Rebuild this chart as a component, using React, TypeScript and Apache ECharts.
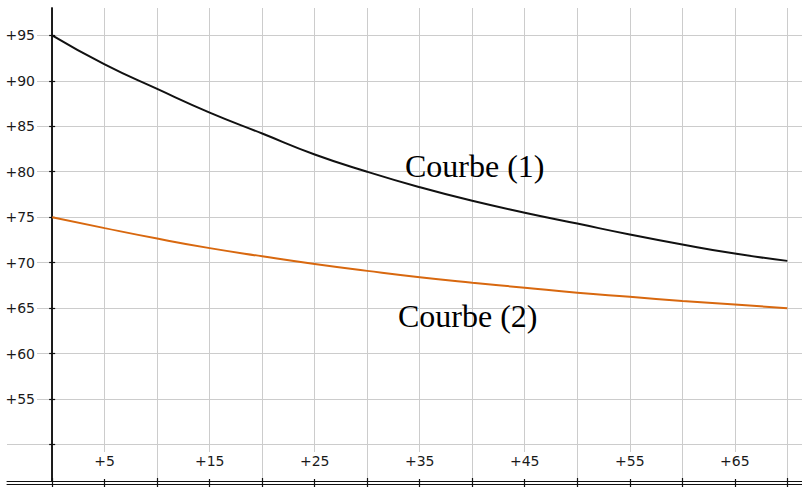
import React, { useEffect, useRef } from 'react';
import * as echarts from 'echarts';

const xValues = [0, 5, 10, 15, 20, 25, 30, 35, 40, 45, 50, 55, 60, 65, 70];
const courbe1 = [95, 91.8, 89.1, 86.5, 84.2, 81.9, 80.0, 78.3, 76.8, 75.5, 74.3, 73.1, 72.0, 71.0, 70.2];
const courbe2 = [75, 73.8, 72.65, 71.6, 70.7, 69.85, 69.1, 68.4, 67.8, 67.25, 66.7, 66.25, 65.8, 65.4, 65.0];
const xTickValues = [0, 5, 10, 15, 20, 25, 30, 35, 40, 45, 50, 55, 60, 65, 70];
const xLabelValues = [5, 15, 25, 35, 45, 55, 65];
const yTickValues = [50, 55, 60, 65, 70, 75, 80, 85, 90, 95];
const yLabelValues = [55, 60, 65, 70, 75, 80, 85, 90, 95];
const curveNames = ['Courbe (1)', 'Courbe (2)'];

const X_MIN = -4.3;
const X_MAX = 71.4;
const Y_MIN = 46;
const Y_MAX = 98;

const AXIS_COLOR = '#111111';
const GRID_COLOR = '#cccccc';
const LABEL_FONT = 'DejaVu Sans';

export default function App() {
  const ref = useRef<HTMLDivElement>(null);

  useEffect(() => {
    if (!ref.current) return;
    const chart = echarts.init(ref.current, undefined, { renderer: 'svg' });

    const plusFmt = (v: number) => '+' + v;

    const baseX = {
      type: 'value',
      min: X_MIN,
      max: X_MAX,
      splitNumber: 15,
      position: 'bottom',
    };
    const baseY = {
      type: 'value',
      min: Y_MIN,
      max: Y_MAX,
      splitNumber: 10,
      position: 'left',
    };

    chart.setOption({
      animation: false,
      backgroundColor: '#ffffff',
      grid: { left: 7, right: 0, top: 8, bottom: 7, containLabel: false, outerBoundsMode: 'none' },
      xAxis: [
        {
          ...baseX,
          axisLine: { show: true, onZero: false, lineStyle: { color: AXIS_COLOR, width: 1 } },
          axisTick: { show: false },
          axisLabel: {
            show: true,
            inside: true,
            customValues: xLabelValues,
            formatter: plusFmt,
            margin: 2,
            color: '#1a1a1a',
            fontFamily: LABEL_FONT,
            fontSize: 14,
            backgroundColor: '#ffffff',
            padding: [2, 3, 11, 3],
          },
          splitLine: {
            show: true,
            showMinLine: false,
            showMaxLine: false,
            lineStyle: { color: GRID_COLOR, width: 1 },
          },
        },
        {
          ...baseX,
          offset: 3,
          axisLine: { show: true, onZero: false, lineStyle: { color: AXIS_COLOR, width: 1 } },
          axisTick: { show: false },
          axisLabel: { show: false },
          splitLine: { show: false },
        },
        {
          ...baseX,
          offset: 6,
          axisLine: { show: true, onZero: false, lineStyle: { color: AXIS_COLOR, opacity: 0 } },
          axisTick: {
            show: true,
            inside: true,
            length: 9,
            customValues: xTickValues,
            lineStyle: { color: AXIS_COLOR, width: 1.2 },
          },
          axisLabel: { show: false },
          splitLine: { show: false },
        },
      ],
      yAxis: [
        {
          ...baseY,
          axisLine: { show: false, onZero: false },
          axisTick: { show: false },
          axisLabel: {
            show: true,
            customValues: yLabelValues,
            formatter: plusFmt,
            margin: -30,
            color: '#1a1a1a',
            fontFamily: LABEL_FONT,
            fontSize: 14,
            backgroundColor: '#ffffff',
            padding: [1, 2],
          },
          splitLine: {
            show: true,
            showMinLine: false,
            showMaxLine: false,
            lineStyle: { color: GRID_COLOR, width: 1 },
          },
        },
        {
          ...baseY,
          axisLine: { show: true, onZero: true, lineStyle: { color: AXIS_COLOR, width: 1.5 } },
          axisTick: {
            show: true,
            length: 3,
            customValues: yTickValues,
            lineStyle: { color: AXIS_COLOR, width: 1.2 },
          },
          axisLabel: { show: false },
          splitLine: { show: false },
        },
        {
          ...baseY,
          axisLine: { show: true, onZero: true, lineStyle: { color: AXIS_COLOR, width: 1.5 } },
          axisTick: {
            show: true,
            inside: true,
            length: 3,
            customValues: yTickValues,
            lineStyle: { color: AXIS_COLOR, width: 1.2 },
          },
          axisLabel: { show: false },
          splitLine: { show: false },
        },
      ],
      series: [
        {
          name: curveNames[0],
          type: 'line',
          xAxisIndex: 0,
          yAxisIndex: 0,
          smooth: true,
          symbol: 'none',
          lineStyle: { color: '#111111', width: 2 },
          data: xValues.map((x, i) => [x, courbe1[i]]),
          z: 5,
        },
        {
          name: curveNames[1],
          type: 'line',
          xAxisIndex: 0,
          yAxisIndex: 0,
          smooth: true,
          symbol: 'none',
          lineStyle: { color: '#d8680f', width: 2 },
          data: xValues.map((x, i) => [x, courbe2[i]]),
          z: 5,
        },
      ],
      graphic: [
        {
          type: 'text',
          x: 405,
          y: 166,
          z: 10,
          style: {
            text: curveNames[0],
            fill: '#000000',
            fontFamily: 'Liberation Serif',
            fontSize: 32,
            align: 'left',
            verticalAlign: 'middle',
            textAlign: 'left',
            textVerticalAlign: 'middle',
          },
        },
        {
          type: 'text',
          x: 398,
          y: 316,
          z: 10,
          style: {
            text: curveNames[1],
            fill: '#000000',
            fontFamily: 'Liberation Serif',
            fontSize: 32,
            align: 'left',
            verticalAlign: 'middle',
            textAlign: 'left',
            textVerticalAlign: 'middle',
          },
        },
      ],
    });

    return () => chart.dispose();
  }, []);

  return (
    <div
      ref={ref}
      style={{ position: 'fixed', left: 0, top: 0, width: 802, height: 488, background: '#ffffff' }}
    />
  );
}
